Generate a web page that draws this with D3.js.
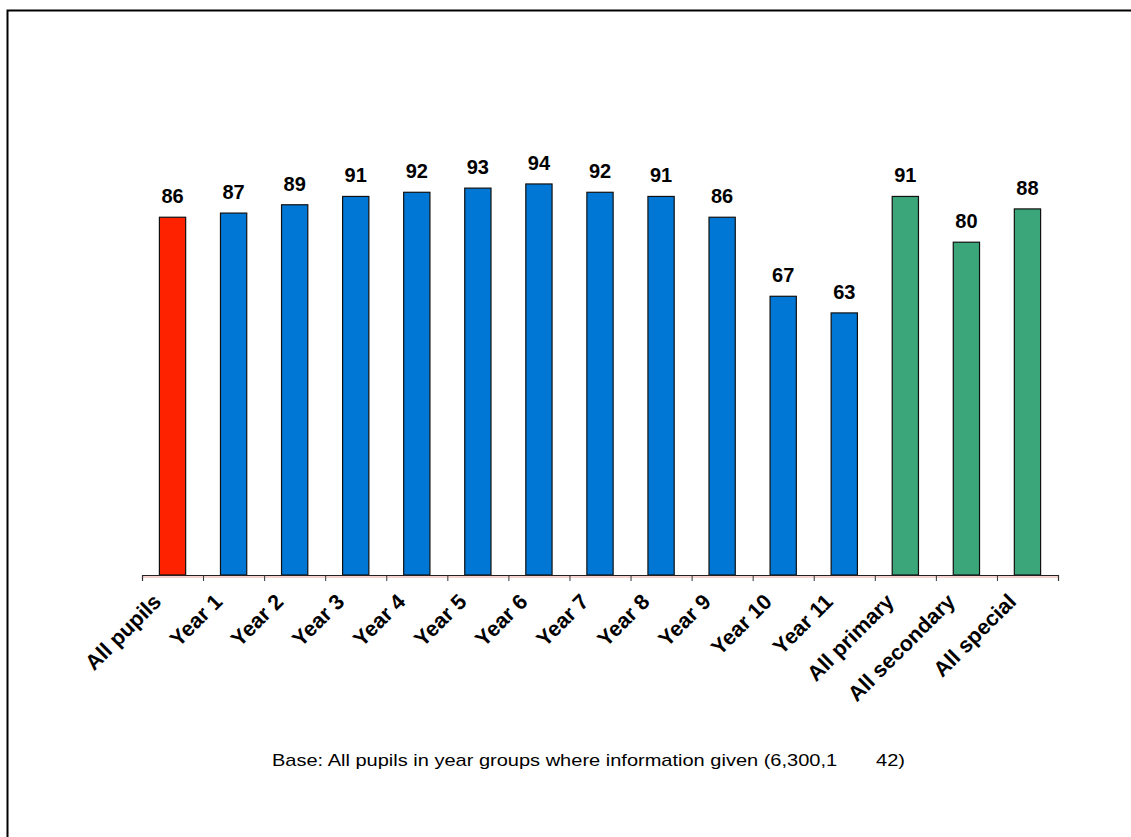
<!DOCTYPE html>
<html><head><meta charset="utf-8">
<script src="https://cdn.jsdelivr.net/npm/d3@7"></script>
<style>body{margin:0;background:#fff}svg{display:block}</style>
</head><body>
<script>
const categories = ["All pupils","Year 1","Year 2","Year 3","Year 4","Year 5","Year 6","Year 7","Year 8","Year 9","Year 10","Year 11","All primary","All secondary","All special"];
const values = [86,87,89,91,92,93,94,92,91,86,67,63,91,80,88];
const groups = ["all","year","year","year","year","year","year","year","year","year","year","year","phase","phase","phase"];
const groupColors = {all:"#FF2200", year:"#0077D5", phase:"#3BA67A"};
const footnote = "Base: All pupils in year groups where information given (6,300,1       42)";

const W = 1131, H = 837;
const svg = d3.select("body").append("svg").attr("width", W).attr("height", H);

// frame (top and left)
svg.append("path").attr("d", `M7.5,${H} V10.5 H${W}`).attr("fill","none").attr("stroke","#000").attr("stroke-width",2);

const x = d3.scaleBand().domain(categories).range([142, 1058]).paddingInner(0.57).paddingOuter(0.285);
const y = d3.scaleLinear().domain([0, 100]).range([575, 159]);

// bars
const bars = svg.append("g");
categories.forEach((c, i) => {
  bars.append("rect")
    .attr("x", x(c)).attr("y", y(values[i]))
    .attr("width", x.bandwidth()).attr("height", y(0) - y(values[i]))
    .attr("fill", groupColors[groups[i]])
    .attr("stroke", "#111").attr("stroke-width", 1.2);
});

// value labels
svg.append("g").selectAll("text").data(categories).join("text")
  .attr("x", c => x(c) + x.bandwidth()/2)
  .attr("y", (c, i) => y(values[i]) - 14)
  .attr("text-anchor", "middle")
  .attr("font-family", "Liberation Sans, Arial, sans-serif")
  .attr("font-weight", "bold").attr("font-size", 20)
  .text((c, i) => values[i]);

// axis
svg.append("line").attr("x1",142).attr("x2",1058).attr("y1",577).attr("y2",577).attr("stroke","#f4c4c0").attr("stroke-width",1.5);
const ax = svg.append("g").attr("transform","translate(0,575)");
ax.call(d3.axisBottom(d3.scaleLinear().domain([0, categories.length]).range([142, 1058]))
  .tickValues(d3.range(categories.length + 1)).tickSize(6).tickFormat(""));
ax.select(".domain").attr("stroke","#222").attr("stroke-width",1.2);
ax.selectAll(".tick line").attr("stroke","#333");

// category labels
svg.append("g").selectAll("text").data(categories).join("text")
  .attr("transform", c => `translate(${x(c) + x.bandwidth()/2 - 10},${603}) rotate(-45)`)
  .attr("text-anchor", "end")
  .attr("font-family", "Liberation Sans, Arial, sans-serif")
  .attr("font-weight", "bold").attr("font-size", 21.5)
  .text(c => c);

// footnote
svg.append("text").attr("x", 272).attr("y", 766)
  .attr("xml:space","preserve").style("white-space","pre")
  .attr("textLength", 633).attr("lengthAdjust","spacingAndGlyphs")
  .attr("font-family", "Liberation Sans, Arial, sans-serif")
  .attr("font-size", 17).text(footnote);
</script>
</body></html>
